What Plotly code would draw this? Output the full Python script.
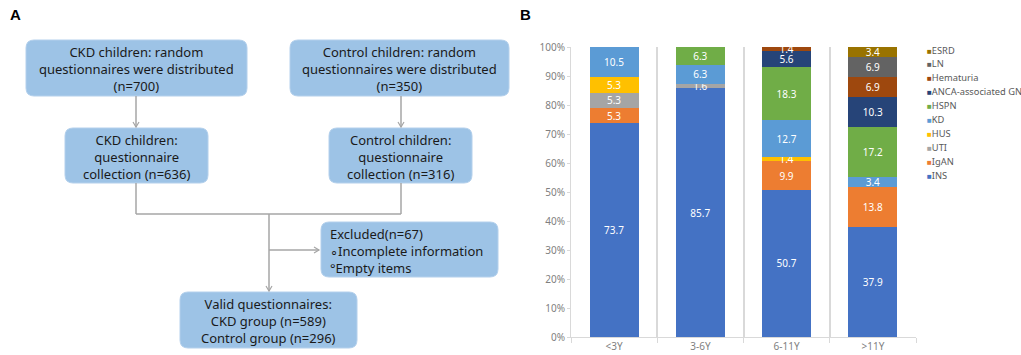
import plotly.graph_objects as go

# ---------------- data (panel B) ----------------
categories = ["<3Y", "3-6Y", "6-11Y", ">11Y"]
diseases = ["INS", "IgAN", "UTI", "HUS", "KD", "HSPN",
            "ANCA-associated GN", "Hematuria", "LN", "ESRD"]
ins = [73.7, 85.7, 50.7, 37.9]
igan = [5.3, None, 9.9, 13.8]
uti = [5.3, 1.6, None, None]
hus = [5.3, None, 1.4, None]
kd = [10.5, 6.3, 12.7, 3.4]
hspn = [None, 6.3, 18.3, 17.2]
anca = [None, None, 5.6, 10.3]
hematuria = [None, None, 1.4, 6.9]
ln = [None, None, None, 6.9]
esrd = [None, None, None, 3.4]
series = [ins, igan, uti, hus, kd, hspn, anca, hematuria, ln, esrd]
colors = ["#4472C4", "#ED7D31", "#A5A5A5", "#FFC000", "#5B9BD5",
          "#70AD47", "#264478", "#9E480E", "#636363", "#997300"]
y_ticks = list(range(0, 101, 10))
y_ticktext = [f"{v}%" for v in y_ticks]

# ---------------- flowchart text (panel A) ----------------
box_texts = [
    "CKD children: random<br>questionnaires were distributed<br>(n=700)",
    "Control children: random<br>questionnaires were distributed<br>(n=350)",
    "CKD children:<br>questionnaire<br>collection (n=636)",
    "Control children:<br>questionnaire<br>collection (n=316)",
    "Valid questionnaires:<br>CKD group (n=589)<br>Control group (n=296)",
]
excluded_text = "Excluded(n=67)<br>\u2218Incomplete information<br>\u00b0Empty items"

W, H = 1021, 355
fig = go.Figure()

for name, vals, col in zip(diseases, series, colors):
    fig.add_trace(go.Bar(
        x=categories, y=vals, name=name,
        marker=dict(color=col, line=dict(width=0)),
        text=["" if v is None else f"{v:.1f}" for v in vals],
        textposition="inside", insidetextanchor="middle", textangle=0,
        constraintext="none",
        textfont=dict(color="white", size=10, family="Noto Sans"),
        showlegend=False, hoverinfo="skip",
    ))

# empty trace to create the drawing subplot for the flowchart
fig.add_trace(go.Scatter(x=[], y=[], xaxis="x2", yaxis="y2", showlegend=False))

shapes = []
annotations = []


def rrect(x0, y0, x1, y1, r=8):
    p = (f"M {x0+r},{y0} L {x1-r},{y0} Q {x1},{y0} {x1},{y0+r} "
         f"L {x1},{y1-r} Q {x1},{y1} {x1-r},{y1} L {x0+r},{y1} "
         f"Q {x0},{y1} {x0},{y1-r} L {x0},{y0+r} Q {x0},{y0} {x0+r},{y0} Z")
    return dict(type="path", path=p, xref="x2", yref="y2",
                fillcolor="#9DC3E6", line=dict(color="#B4D0EC", width=1), layer="below")


gray = "#A6A6A6"


def line(x0, y0, x1, y1):
    return dict(type="line", x0=x0, y0=y0, x1=x1, y1=y1, xref="x2", yref="y2",
                line=dict(color=gray, width=1.5))


def arrow_down(x, y):
    return dict(type="path", path=f"M {x-3},{y-5} L {x},{y} L {x+3},{y-5}",
                xref="x2", yref="y2", line=dict(color=gray, width=1.2))


def arrow_right(x, y):
    return dict(type="path", path=f"M {x-5},{y-3} L {x},{y} L {x-5},{y+3}",
                xref="x2", yref="y2", line=dict(color=gray, width=1.2))


boxes = [(26, 40, 247, 96), (290, 40, 509, 96), (65, 128, 208, 183),
         (329, 128, 472, 183), (180, 292, 357, 348)]
for (x0, y0, x1, y1), t in zip(boxes, box_texts):
    shapes.append(rrect(x0, y0, x1, y1))
    annotations.append(dict(x=(x0 + x1) / 2, y=(y0 + y1) / 2 + 1, xref="x2", yref="y2",
                            text=t, showarrow=False, align="center",
                            font=dict(family="Noto Sans", size=13, color="#1a1a1a")))
shapes.append(rrect(321, 222, 498, 277))
annotations.append(dict(x=328, y=250.5, xref="x2", yref="y2", xanchor="left",
                        text=excluded_text, showarrow=False, align="left",
                        font=dict(family="Noto Sans", size=13, color="#1a1a1a")))

shapes += [
    line(136, 96, 136, 127), arrow_down(136, 127),
    line(401, 96, 401, 127), arrow_down(401, 127),
    line(136, 183, 136, 214), line(401, 183, 401, 214), line(136, 214, 401, 214),
    line(269, 214, 269, 291), arrow_down(269, 291),
    line(269, 250, 319, 250), arrow_right(319, 250),
]

# panel letters
annotations.append(dict(x=8, y=14, xref="x2", yref="y2", xanchor="left", text="<b>A</b>",
                        showarrow=False, font=dict(family="Liberation Sans", size=15, color="black")))
annotations.append(dict(x=518, y=14, xref="x2", yref="y2", xanchor="left", text="<b>B</b>",
                        showarrow=False, font=dict(family="Liberation Sans", size=15, color="black")))

# legend (reversed order, as in the reference)
for i, (name, col) in enumerate(zip(diseases[::-1], colors[::-1])):
    annotations.append(dict(
        x=925, y=50 + i * 13.9, xref="x2", yref="y2", xanchor="left",
        text=f"<span style='color:{col};font-size:8px'>\u25a0</span>{name}",
        showarrow=False,
        font=dict(family="Noto Sans", size=9.3, color="#595959")))

fig.update_layout(
    width=W, height=H, margin=dict(l=0, r=0, t=0, b=0),
    paper_bgcolor="white", plot_bgcolor="rgba(0,0,0,0)",
    barmode="stack", barnorm="percent", bargap=0.43,
    uniformtext=dict(minsize=10, mode="show"),
    xaxis=dict(type="category", domain=[571 / W, 916 / W], anchor="y",
               tickson="boundaries", showgrid=True, gridcolor="#D9D9D9", gridwidth=1.5,
               showline=True, linecolor="#D9D9D9", ticks="outside", ticklen=5,
               tickcolor="#D9D9D9", tickfont=dict(family="Noto Sans", size=10, color="#7F7F7F"),
               automargin=False, fixedrange=True),
    yaxis=dict(domain=[18 / H, 308 / H], range=[0, 100], tickmode="array",
               tickvals=y_ticks, ticktext=y_ticktext,
               showgrid=False, zeroline=False, showline=True, linecolor="#D9D9D9",
               ticks="outside", ticklen=3, tickcolor="#D9D9D9",
               tickfont=dict(family="Noto Sans", size=10, color="#7F7F7F"),
               automargin=False, fixedrange=True),
    xaxis2=dict(domain=[0, 1], range=[0, W], visible=False, anchor="y2", fixedrange=True),
    yaxis2=dict(domain=[0, 1], range=[H, 0], visible=False, anchor="x2", fixedrange=True),
    shapes=shapes, annotations=annotations,
)

fig.write_html("out.html", config={"displayModeBar": False},
               post_script="document.body.style.margin='0';")
